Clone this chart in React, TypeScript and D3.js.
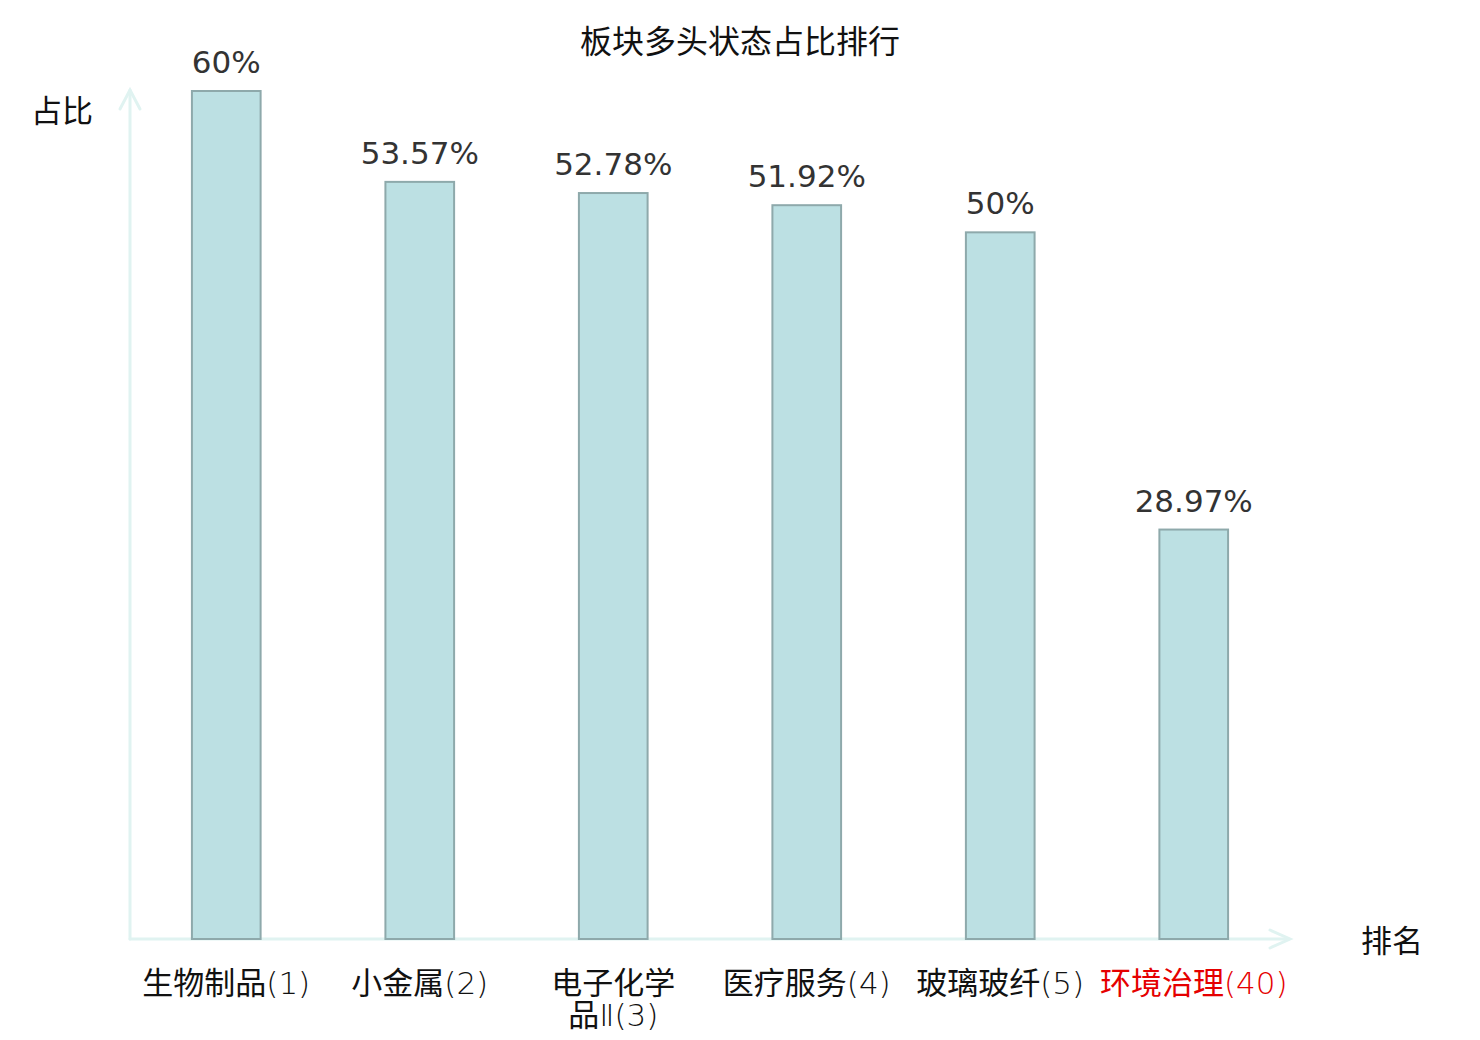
import * as d3 from "d3";

const categories = ["生物制品(1)", "小金属(2)", "电子化学品Ⅱ(3)", "医疗服务(4)", "玻璃玻纤(5)", "环境治理(40)"];
const shares = [60, 53.57, 52.78, 51.92, 50, 28.97];
const highlighted = ["环境治理(40)"];

const W = 1480;
const H = 1040;
const FONT = '"DejaVu Sans", "Noto Sans CJK SC", sans-serif';
const CJK = '"Noto Sans CJK SC", sans-serif';
const AXIS = "#e0f3f1";

function splitLabel(s: string) {
  // long labels wrap onto a second line, like the original
  return s.length > 8 ? [s.slice(0, 4), s.slice(4)] : [s];
}

// chinese runs in regular CJK, the rest (digits, brackets) in a thin latin face
function runs(s: string) {
  return s.match(/[\u4e00-\u9fff]+|[^\u4e00-\u9fff]+/g) ?? [];
}

export default function App() {
  const x = d3
    .scaleBand<string>()
    .domain(categories)
    .range([130, 1290])
    .paddingInner(0.645)
    .paddingOuter(0.32);
  const y = d3.scaleLinear().domain([0, 60]).range([939, 91]);
  const base = y(0);

  return (
    <svg
      width={W}
      height={H}
      style={{ position: "absolute", left: 0, top: 0, background: "#fff" }}
      fontFamily={FONT}
    >
      <text x={740} y={53} textAnchor="middle" fontSize={32} fill="#111">
        板块多头状态占比排行
      </text>

      {/* axes with arrowheads */}
      <g stroke={AXIS} strokeWidth={3} fill="none" strokeLinecap="round">
        <line x1={130} y1={base} x2={130} y2={90} />
        <polyline points="120,109 130,90 140,109" />
        <line x1={130} y1={base} x2={1289} y2={base} />
        <polyline points="1270,930 1290,939 1270,948" />
      </g>
      <text x={93} y={122} textAnchor="end" fontSize={31} fill="#111">
        占比
      </text>
      <text x={1361} y={952} fontSize={31} fill="#111">
        排名
      </text>

      {categories.map((c, i) => {
        const v = shares[i];
        const bx = x(c)!;
        const cx = bx + x.bandwidth() / 2;
        const lines = splitLabel(c);
        const hot = highlighted.includes(c);
        return (
          <g key={c}>
            <rect
              x={bx}
              y={y(v)}
              width={x.bandwidth()}
              height={base - y(v)}
              fill="#bce0e3"
              stroke="#8ea9ab"
              strokeWidth={2}
            />
            <text x={cx} y={y(v) - 18} textAnchor="middle" fontSize={31} fill="#333">
              {`${v}%`}
            </text>
            {lines.map((l, k) => (
              <text
                key={k}
                x={cx}
                y={994 + k * 32}
                textAnchor="middle"
                fontSize={31}
                fill={hot ? "#e50000" : "#111"}
              >
                {runs(l).map((r, j) =>
                  /[\u4e00-\u9fff]/.test(r) ? (
                    <tspan key={j} fontFamily={CJK}>
                      {r}
                    </tspan>
                  ) : (
                    <tspan key={j} fontFamily='"DejaVu Sans"' fontWeight={200}>
                      {r}
                    </tspan>
                  )
                )}
              </text>
            ))}
          </g>
        );
      })}
    </svg>
  );
}
